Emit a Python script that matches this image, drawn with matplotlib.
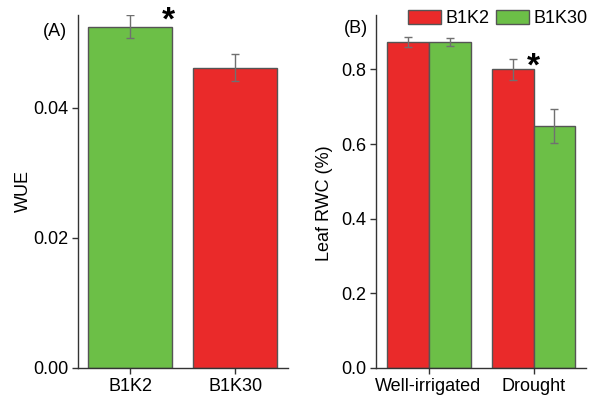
import numpy as np
import matplotlib.pyplot as plt

plt.rcParams['font.family'] = ['Liberation Sans', 'DejaVu Sans']

# Panel A: WUE
genotypes = ['B1K2', 'B1K30']
wue = [0.0525, 0.0462]
wue_err = [0.0018, 0.0021]

# Panel B: leaf RWC
conditions = ['Well-irrigated', 'Drought']
rwc_b1k2 = [0.873, 0.801]
rwc_b1k2_err = [0.014, 0.028]
rwc_b1k30 = [0.874, 0.649]
rwc_b1k30_err = [0.011, 0.046]

green = '#6cbf47'
red = '#ea2a2a'
edge = '#555555'
ecol = '#707070'
fs = 13

fig = plt.figure(figsize=(5.89, 3.98), dpi=100)
axA = fig.add_axes([0.1324, 0.0754, 0.3565, 0.887])
axB = fig.add_axes([0.6384, 0.0754, 0.3565, 0.887])

for ax in (axA, axB):
    ax.spines['top'].set_visible(False)
    ax.spines['right'].set_visible(False)
    for s in ('left', 'bottom'):
        ax.spines[s].set_color('#333333')
        ax.spines[s].set_linewidth(1.0)
    ax.tick_params(direction='out', length=4, width=1, color='#333333', labelsize=fs, pad=3)
    ax.set_xlim(-0.5, 1.5)

# (A)
x = np.arange(len(genotypes))
axA.bar(x, wue, width=0.8, color=[green, red], edgecolor=edge, linewidth=1,
        yerr=wue_err, error_kw=dict(ecolor=ecol, elinewidth=1, capsize=3, capthick=1))
axA.set_xticks(x)
axA.set_xticklabels(genotypes)
axA.set_ylim(0, 0.0543)
axA.set_yticks([0.0, 0.02, 0.04])
axA.set_yticklabels(['0.00', '0.02', '0.04'])
axA.set_ylabel('WUE', fontsize=fs, labelpad=1)
axA.text(-0.05, 0.952, '(A)', transform=axA.transAxes, fontsize=fs, ha='right', va='center')
axA.text(0.36, 0.0534, '*', fontsize=24, fontweight='bold', ha='center', va='center')

# (B)
xb = np.arange(len(conditions))
w = 0.4
axB.bar(xb - w / 2, rwc_b1k2, width=w, color=red, edgecolor=edge, linewidth=1,
        yerr=rwc_b1k2_err, error_kw=dict(ecolor=ecol, elinewidth=1, capsize=3, capthick=1),
        label='B1K2')
axB.bar(xb + w / 2, rwc_b1k30, width=w, color=green, edgecolor=edge, linewidth=1,
        yerr=rwc_b1k30_err, error_kw=dict(ecolor=ecol, elinewidth=1, capsize=3, capthick=1),
        label='B1K30')
axB.set_xticks(xb)
axB.set_xticklabels(conditions)
axB.set_ylim(0, 0.946)
axB.set_yticks([0.0, 0.2, 0.4, 0.6, 0.8])
axB.set_yticklabels(['0.0', '0.2', '0.4', '0.6', '0.8'])
axB.set_ylabel('Leaf RWC (%)', fontsize=fs)
axB.yaxis.set_label_coords(-0.205, 0.467)
axB.text(-0.04, 0.963, '(B)', transform=axB.transAxes, fontsize=fs, ha='right', va='center')
axB.text(0.995, 0.807, '*', fontsize=24, fontweight='bold', ha='center', va='center')
axB.legend(loc='upper right', bbox_to_anchor=(0.998, 0.975), bbox_transform=fig.transFigure,
           ncol=2, frameon=False, fontsize=fs, handlelength=1.85, handleheight=0.85,
           columnspacing=0.35, handletextpad=0.25, borderpad=0, borderaxespad=0)

fig.savefig('out.png', dpi=100)
